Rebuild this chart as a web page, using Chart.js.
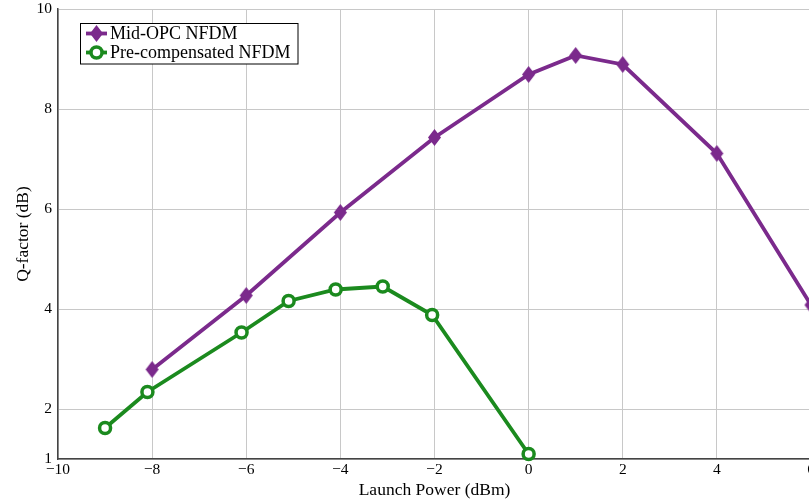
<!DOCTYPE html>
<html>
<head>
<meta charset="utf-8">
<script src="https://cdn.jsdelivr.net/npm/chart.js@4/dist/chart.umd.min.js"></script>
<style>
  html, body { margin: 0; padding: 0; background: #fff; overflow: hidden; }
  #wrap { width: 830px; height: 500px; }
</style>
</head>
<body>
<div id="wrap"><canvas id="c" width="830" height="500"></canvas></div>
<script>
// Launch power sweep (dBm) and measured Q-factor (dB)
const midOpcPower = [-8, -6, -4, -2, 0, 1, 2, 4, 6];
const midOpcQ     = [2.79, 4.27, 5.93, 7.43, 8.69, 9.07, 8.89, 7.11, 4.08];

const preCompPower = [-9, -8.1, -6.1, -5.1, -4.1, -3.1, -2.05, 0];
const preCompQ     = [1.62, 2.34, 3.53, 4.16, 4.39, 4.45, 3.88, 1.1];

const xTicks = [-10, -8, -6, -4, -2, 0, 2, 4, 6];
const yTicks = [1, 2, 4, 6, 8, 10];

const seriesNames = ['Mid-OPC NFDM', 'Pre-compensated NFDM'];

const PURPLE = '#7b2a8c';
const GREEN = '#1b8a1e';
const SERIF = "'Liberation Serif', 'DejaVu Serif', serif";

const toPoints = (xs, ys) => xs.map((x, i) => ({ x, y: ys[i] }));
const fmt = v => (v < 0 ? '\u2212' + Math.abs(v) : String(v));

// Tall filled diamond marker
function makeDiamond(color, hw, hh) {
  const c = document.createElement('canvas');
  c.width = Math.ceil(hw * 2 + 2);
  c.height = Math.ceil(hh * 2 + 2);
  const g = c.getContext('2d');
  const cx = c.width / 2, cy = c.height / 2;
  g.fillStyle = color;
  g.beginPath();
  g.moveTo(cx, cy - hh); g.lineTo(cx + hw, cy);
  g.lineTo(cx, cy + hh); g.lineTo(cx - hw, cy);
  g.closePath();
  g.fill();
  return c;
}
const diamond = makeDiamond(PURPLE, 6.5, 8.5);

// Legend box drawn inside the plot area, with line + marker samples
const boxLegend = {
  id: 'boxLegend',
  afterDraw(chart) {
    const ctx = chart.ctx;
    const x0 = 80.5, y0 = 23.5, w = 217.5, h = 40.5;
    ctx.save();
    ctx.fillStyle = '#fff';
    ctx.fillRect(x0, y0, w, h);
    ctx.strokeStyle = '#000';
    ctx.lineWidth = 1;
    ctx.strokeRect(x0, y0, w, h);
    const rows = [33.5, 52.5];
    const mx = 96.5;
    chart.data.datasets.forEach((ds, i) => {
      const cy = rows[i];
      ctx.strokeStyle = ds.borderColor;
      ctx.lineWidth = ds.borderWidth;
      ctx.beginPath();
      ctx.moveTo(86, cy);
      ctx.lineTo(107, cy);
      ctx.stroke();
      if (ds.pointStyle === 'circle') {
        ctx.fillStyle = ds.pointBackgroundColor;
        ctx.strokeStyle = ds.pointBorderColor;
        ctx.lineWidth = ds.pointBorderWidth;
        ctx.beginPath();
        ctx.arc(mx, cy, ds.pointRadius, 0, Math.PI * 2);
        ctx.fill();
        ctx.stroke();
      } else {
        const img = ds.pointStyle;
        ctx.drawImage(img, mx - img.width / 2, cy - img.height / 2);
      }
      ctx.fillStyle = '#000';
      ctx.font = '18px ' + SERIF;
      ctx.textBaseline = 'middle';
      ctx.textAlign = 'left';
      ctx.fillText(ds.label, 110, cy + 1);
    });
    ctx.restore();
  }
};

new Chart(document.getElementById('c'), {
  type: 'scatter',
  data: {
    datasets: [
      {
        label: seriesNames[0],
        data: toPoints(midOpcPower, midOpcQ),
        showLine: true,
        borderColor: PURPLE,
        borderWidth: 3.8,
        pointStyle: diamond,
        pointRadius: 8,
        pointBackgroundColor: PURPLE,
        pointBorderColor: PURPLE,
        pointBorderWidth: 0
      },
      {
        label: seriesNames[1],
        data: toPoints(preCompPower, preCompQ),
        showLine: true,
        borderColor: GREEN,
        borderWidth: 3.8,
        pointStyle: 'circle',
        pointRadius: 5.5,
        pointBackgroundColor: '#fff',
        pointBorderColor: GREEN,
        pointBorderWidth: 3.5
      }
    ]
  },
  options: {
    responsive: false,
    animation: false,
    clip: false,
    layout: { padding: { top: 9, right: 19, bottom: 0, left: 0 } },
    plugins: { legend: { display: false }, tooltip: { enabled: false } },
    scales: {
      x: {
        type: 'linear',
        min: -10, max: 6,
        afterBuildTicks: s => { s.ticks = xTicks.map(v => ({ value: v })); },
        afterFit: s => { s.height = 41; s.paddingLeft = 0; s.paddingRight = 0; },
        grid: { color: '#c8c8c8', lineWidth: 1, drawTicks: false },
        border: { color: '#444', width: 1.5 },
        ticks: {
          color: '#000', padding: 2,
          font: { family: SERIF, size: 15.5 },
          maxRotation: 0, autoSkip: false,
          callback: v => fmt(v)
        },
        title: {
          display: true, text: 'Launch Power (dBm)', color: '#000',
          font: { family: SERIF, size: 17.5 }, padding: { top: 0, bottom: -1 }
        }
      },
      y: {
        type: 'linear',
        min: 1, max: 10,
        afterBuildTicks: s => { s.ticks = yTicks.map(v => ({ value: v })); },
        afterFit: s => { s.width = 58; s.paddingTop = 0; s.paddingBottom = 0; },
        grid: { color: '#c8c8c8', lineWidth: 1, drawTicks: false },
        border: { color: '#444', width: 1.5 },
        ticks: {
          color: '#000', padding: 6,
          font: { family: SERIF, size: 15.5 },
          callback: v => fmt(v)
        },
        title: {
          display: true, text: 'Q-factor (dB)', color: '#000',
          font: { family: SERIF, size: 17.5 }, padding: { top: 13, bottom: 0 }
        }
      }
    }
  },
  plugins: [boxLegend]
});
</script>
</body>
</html>
